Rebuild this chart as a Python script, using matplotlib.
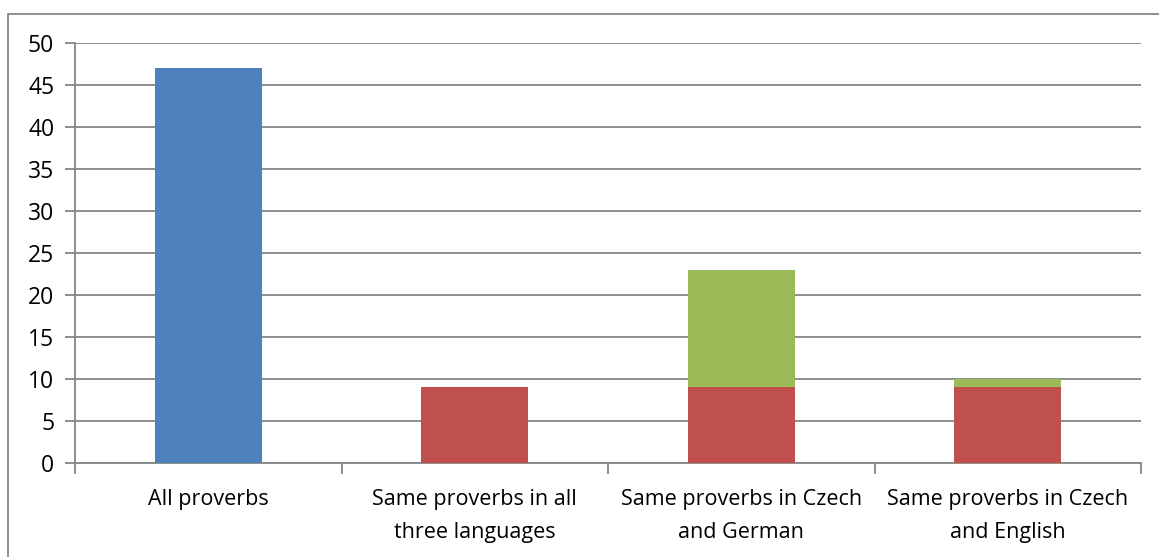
import matplotlib
matplotlib.use("Agg")
import matplotlib.pyplot as plt
from matplotlib.patches import Rectangle
import numpy as np

categories = ["All proverbs", "Same proverbs in all\nthree languages",
              "Same proverbs in Czech\nand German", "Same proverbs in Czech\nand English"]
all_proverbs = [47, 0, 0, 0]
shared_all = [0, 9, 9, 9]
shared_pair = [0, 0, 14, 1]
y_ticks = [0, 5, 10, 15, 20, 25, 30, 35, 40, 45, 50]

plt.rcParams["font.family"] = ["Open Sans", "DejaVu Sans"]

W, H = 1159, 557
fig = plt.figure(figsize=(W / 100, H / 100), dpi=100)
ax = fig.add_axes([75 / W, 1 - 463 / H, (1141 - 75) / W, (463 - 43) / H])

grid_c = "#868686"
x = np.arange(len(categories))
bw = 0.4
ax.bar(x, all_proverbs, bw, color="#4F81BD", zorder=3)
ax.bar(x, shared_all, bw, color="#C0504D", zorder=3)
ax.bar(x, shared_pair, bw, bottom=shared_all, color="#9BBB59", zorder=3)

ax.set_xlim(-0.5, len(categories) - 0.5)
ax.set_ylim(0, 50)
ax.set_yticks(y_ticks)
ax.yaxis.grid(True, color=grid_c, linewidth=1.3, zorder=0)
ax.set_axisbelow(True)

for s in ["top", "right"]:
    ax.spines[s].set_visible(False)
for s in ["left", "bottom"]:
    ax.spines[s].set_color(grid_c)
    ax.spines[s].set_linewidth(1.3)

ax.tick_params(axis="y", length=7, width=1.3, color=grid_c, pad=8, labelsize=16.5, labelcolor="black")
ax.set_xticks(np.arange(len(categories) + 1) - 0.5, minor=True)
ax.set_xticks(x)
ax.set_xticklabels(categories, fontsize=15.5, linespacing=1.75)
ax.tick_params(axis="x", which="major", length=0, pad=19)
ax.tick_params(axis="x", which="minor", length=8, width=1.3, color=grid_c)

# chart border
fig.patches.append(Rectangle((8 / W, -0.05), 1.2, 1 - 14 / H + 0.05,
                             transform=fig.transFigure, fill=False,
                             edgecolor=grid_c, linewidth=1.3))

fig.savefig("out.png", dpi=100)
